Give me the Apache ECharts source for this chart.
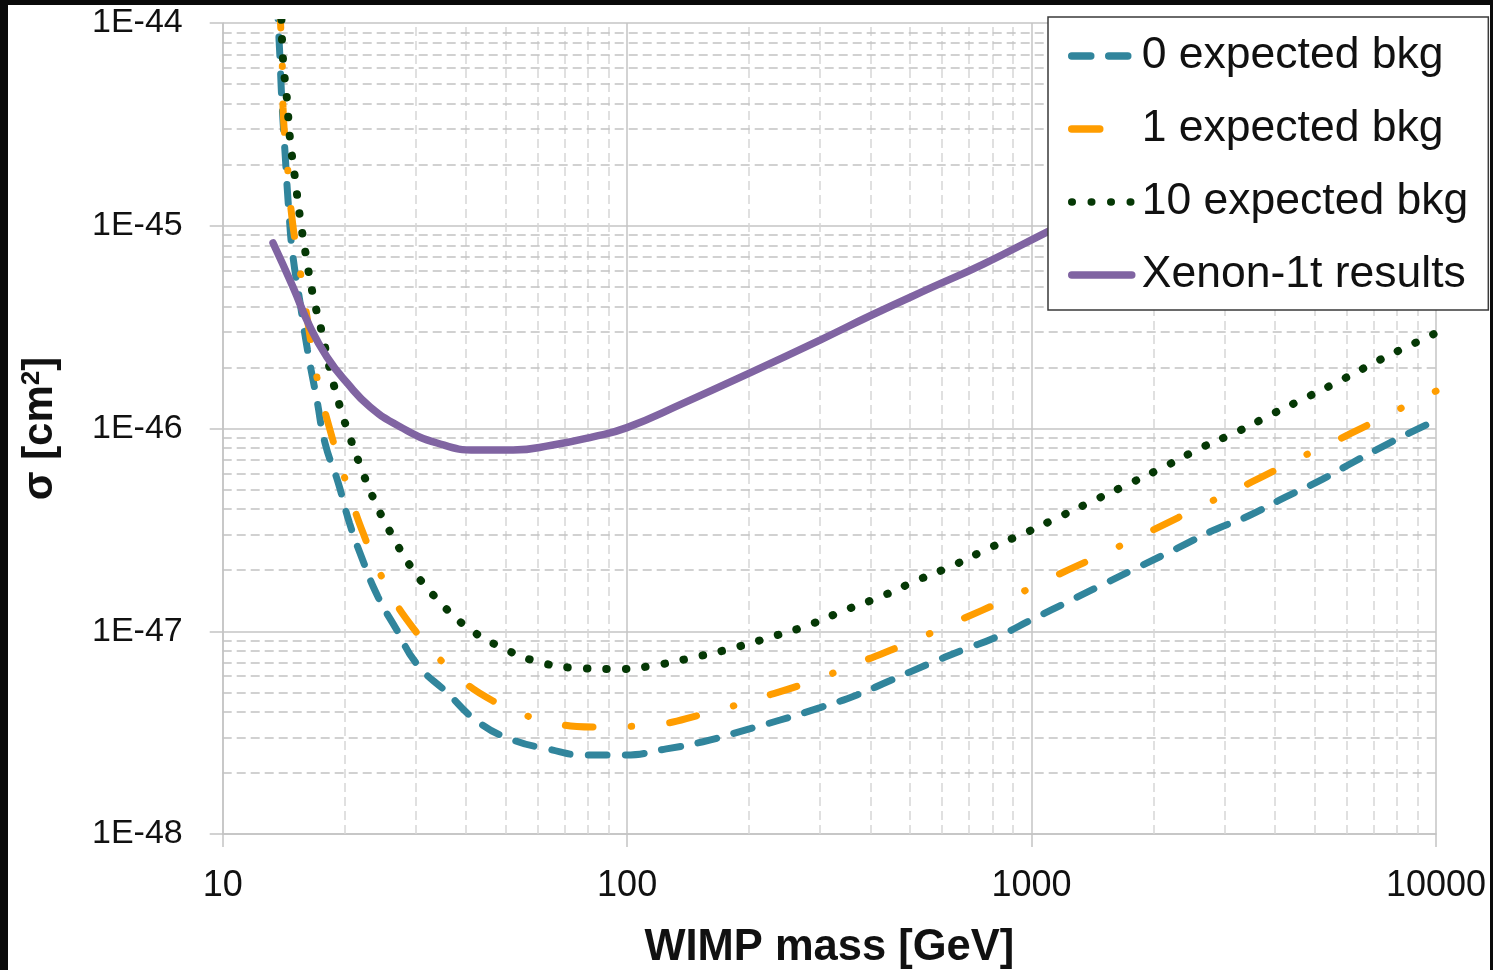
<!DOCTYPE html>
<html lang="en">
  <head>
    <meta charset="UTF-8">
    <title>WIMP sensitivity</title>
    <style>
      html, body { margin: 0; padding: 0; background: #0a0a0a; }
      .chart {
        position: absolute;
        left: 8px;
        top: 5px;
        width: 1482px;
        height: 965px;
        background: #fff;
      }
    </style>
  </head>
  <body>
    <div id="chart" class="chart"></div>

    <script src="https://cdn.jsdelivr.net/npm/echarts@6/dist/echarts.min.js"></script>
    <script type="text/javascript">
      // values are in cm^2; the y axis works in units of 1e-48 cm^2
      // because echarts rounds very small numbers away
      var SIGMA_UNIT = 1e-48;

      // axis ticks
      var xTicks = [10, 100, 1000, 10000];
      var yTicks = [1e-48, 1e-47, 1e-46, 1e-45, 1e-44];

      // 0 expected bkg
      var massBkg0 = [13.65, 13.72, 13.86, 14.0, 14.25, 14.6, 14.9, 15.5, 16.2, 17.1, 17.9, 19.3, 20.6, 22.2, 24.2, 26.9, 30.2, 35.8, 42.6, 51.3, 63.4, 79.5, 97.8, 125, 154, 190, 239, 300, 370, 446, 552, 678, 822, 1010, 1241, 1536, 1854, 2296, 2830, 3434, 4230, 5218, 6225, 7688, 10000];
      var sigmaBkg0 = [1.3e-44, 1.0e-44, 6.6e-45, 4.2e-45, 2.35e-45, 1.12e-45, 7.2e-46, 4.3e-46, 2.45e-46, 1.38e-46, 8.5e-47, 5.4e-47, 3.4e-47, 2.24e-47, 1.48e-47, 1.02e-47, 6.9e-48, 5.0e-48, 3.6e-48, 2.95e-48, 2.63e-48, 2.45e-48, 2.45e-48, 2.63e-48, 2.85e-48, 3.2e-48, 3.65e-48, 4.2e-48, 4.85e-48, 5.7e-48, 6.85e-48, 8.1e-48, 9.4e-48, 1.15e-47, 1.41e-47, 1.74e-47, 2.09e-47, 2.57e-47, 3.16e-47, 3.7e-47, 4.57e-47, 5.6e-47, 6.8e-47, 8.5e-47, 1.1e-46];

      // 1 expected bkg
      var massBkg1 = [13.85, 13.9, 14.02, 14.1, 14.42, 14.83, 15.53, 16.25, 17.1, 18.42, 20.18, 22.24, 25.2, 29.55, 36.5, 46.6, 61.9, 84.2, 114, 155, 208, 278, 372, 495, 654, 869, 1142, 1518, 2017, 2636, 3504, 4605, 6052, 8000, 10000];
      var sigmaBkg1 = [1.3e-44, 1.0e-44, 6.95e-45, 3.81e-45, 2.11e-45, 1.10e-45, 6.05e-46, 3.31e-46, 1.79e-46, 9.84e-47, 5.45e-47, 3.05e-47, 1.73e-47, 1.04e-47, 6.52e-48, 4.53e-48, 3.65e-48, 3.37e-48, 3.45e-48, 3.91e-48, 4.64e-48, 5.56e-48, 6.97e-48, 8.75e-48, 1.12e-47, 1.44e-47, 1.87e-47, 2.43e-47, 3.19e-47, 4.15e-47, 5.45e-47, 7.16e-47, 9.29e-47, 1.23e-46, 1.53e-46];

      // 10 expected bkg
      var massBkg10 = [13.93, 13.98, 14.10, 14.42, 14.67, 15.09, 15.53, 16.07, 16.72, 17.60, 18.42, 19.61, 20.29, 21.85, 23.80, 26.36, 29.71, 34.25, 40.41, 49.32, 60.53, 75.57, 94.36, 117.8, 147.2, 182.6, 226.8, 279.9, 345.5, 426.6, 523.6, 642.7, 788.8, 962.8, 1182, 1450, 1781, 2173, 2652, 3256, 3973, 4877, 5952, 7263, 8863, 10000];
      var sigmaBkg10 = [1.3e-44, 1.0e-44, 6.57e-45, 4.17e-45, 2.68e-45, 1.72e-45, 1.10e-45, 7.10e-46, 4.55e-46, 2.96e-46, 1.95e-46, 1.23e-46, 1.00e-46, 6.61e-47, 4.35e-47, 2.92e-47, 1.98e-47, 1.41e-47, 1.04e-47, 8.26e-48, 7.05e-48, 6.59e-48, 6.51e-48, 6.81e-48, 7.46e-48, 8.26e-48, 9.37e-48, 1.07e-47, 1.27e-47, 1.49e-47, 1.79e-47, 2.12e-47, 2.58e-47, 3.05e-47, 3.70e-47, 4.49e-47, 5.45e-47, 6.61e-47, 8.11e-47, 9.72e-47, 1.19e-46, 1.45e-46, 1.77e-46, 2.18e-46, 2.64e-46, 2.96e-46];

      // Xenon-1t results
      var massXenon = [13.32, 14.92, 16.44, 18.11, 20.29, 23.13, 27.44, 33.88, 42.53, 52.22, 65.56, 82.3, 99.9, 137.4, 201.2, 299.9, 405.3, 570.2, 757.9, 1091, 3000, 10000];
      var sigmaXenon = [8.22e-46, 4.99e-46, 3.17e-46, 2.25e-46, 1.68e-46, 1.28e-46, 1.02e-46, 8.48e-47, 7.83e-47, 7.83e-47, 8.29e-47, 9.1e-47, 1.01e-46, 1.33e-46, 1.88e-46, 2.73e-46, 3.65e-46, 4.99e-46, 6.45e-46, 9.31e-46, 2.56e-45, 7.8e-45];

      var seriesNames = ['0 expected bkg', '1 expected bkg', '10 expected bkg', 'Xenon-1t results'];

      // minor grid positions (2..9 within each decade)
      var xMinorTicks = [];
      [10, 100, 1000].forEach(function (d) {
        for (var k = 2; k <= 9; k++) xMinorTicks.push(d * k);
      });
      var yMinorTicks = [];
      [1, 10, 100, 1000].forEach(function (d) {
        for (var k = 2; k <= 9; k++) yMinorTicks.push(d * k);
      });

      function pairs(xs, ys) {
        return xs.map(function (x, i) { return [x, ys[i] / SIGMA_UNIT]; });
      }

      var myChart = echarts.init(document.getElementById('chart'));

      var labelFont = '"Liberation Sans", Arial, sans-serif';

      var option = {
        animation: false,
        backgroundColor: '#ffffff',
        grid: {
          left: 214.7,
          right: 54,
          top: 18,
          bottom: 136,
          containLabel: false,
          outerBoundsMode: 'none'
        },
        legend: {
          data: seriesNames,
          orient: 'vertical',
          left: 1040,
          top: 12,
          z: 10,
          padding: [15, 20, 11, 20],
          itemGap: 25,
          itemWidth: 60,
          itemHeight: 14,
          backgroundColor: '#ffffff',
          borderColor: '#3a3a3a',
          borderWidth: 1.5,
          borderRadius: 0,
          selectedMode: false,
          itemStyle: { opacity: 0 },
          lineStyle: { width: 7.5 },
          textStyle: {
            fontFamily: labelFont,
            fontSize: 44.5,
            lineHeight: 48,
            color: '#111',
            padding: [0, 0, 0, 5]
          }
        },
        xAxis: {
          type: 'log',
          logBase: 10,
          min: xTicks[0],
          max: xTicks[xTicks.length - 1],
          name: 'WIMP mass [GeV]',
          nameLocation: 'middle',
          nameGap: 92,
          nameTextStyle: {
            fontFamily: labelFont,
            fontWeight: 'bold',
            fontSize: 43.5,
            color: '#111'
          },
          axisLine: { show: true, lineStyle: { color: '#c4c4c4', width: 1.5 } },
          axisTick: { show: true, inside: false, length: 13, lineStyle: { color: '#c4c4c4', width: 1.5 } },
          axisLabel: {
            margin: 34,
            fontFamily: labelFont,
            fontSize: 36,
            color: '#111',
            formatter: function (v) { return String(Math.round(v)); }
          },
          splitLine: { show: true, lineStyle: { color: '#c4c4c4', width: 1.5 } }
        },
        yAxis: {
          type: 'log',
          logBase: 10,
          min: yTicks[0] / SIGMA_UNIT,
          max: yTicks[yTicks.length - 1] / SIGMA_UNIT,
          name: 'σ [cm{sup|2}]',
          nameLocation: 'middle',
          nameRotate: 90,
          nameGap: 160,
          nameTextStyle: {
            fontFamily: labelFont,
            fontWeight: 'bold',
            fontSize: 42,
            color: '#111',
            rich: {
              sup: {
                fontFamily: labelFont,
                fontWeight: 'bold',
                fontSize: 26,
                color: '#111',
                padding: [0, 0, 18, 0]
              }
            }
          },
          axisLine: { show: true, lineStyle: { color: '#c4c4c4', width: 1.5 } },
          axisTick: { show: true, inside: false, length: 13, lineStyle: { color: '#c4c4c4', width: 1.5 } },
          axisLabel: {
            margin: 40,
            fontFamily: labelFont,
            fontSize: 34,
            color: '#111',
            formatter: function (v) {
              return '1E' + Math.round(Math.log10(v * SIGMA_UNIT));
            }
          },
          splitLine: { show: true, lineStyle: { color: '#c4c4c4', width: 1.5 } }
        },
        series: [{
          name: 'minor grid',
          type: 'line',
          data: [],
          z: 1,
          silent: true,
          markLine: {
            z: 1,
            silent: true,
            symbol: 'none',
            label: { show: false },
            animation: false,
            data: xMinorTicks.map(function (v) {
              return { xAxis: v, lineStyle: { color: '#d6d6d6', width: 1.5, type: [9, 5] } };
            }).concat(yMinorTicks.map(function (v) {
              return { yAxis: v, lineStyle: { color: '#c2c2c2', width: 1.5, type: [9, 5] } };
            }))
          }
        }, {
          name: seriesNames[0],
          type: 'line',
          data: pairs(massBkg0, sigmaBkg0),
          showSymbol: false,
          symbol: 'none',
          smooth: 0.5,
          z: 3,
          color: '#31859c',
          lineStyle: { color: '#31859c', width: 7, type: [19, 18], cap: 'round' }
        }, {
          name: seriesNames[1],
          type: 'line',
          data: pairs(massBkg1, sigmaBkg1),
          showSymbol: false,
          symbol: 'none',
          smooth: 0.5,
          z: 3,
          color: '#ff9d00',
          lineStyle: { color: '#ff9d00', width: 7, type: [28, 38, 0.5, 38], cap: 'round' }
        }, {
          name: seriesNames[2],
          type: 'line',
          data: pairs(massBkg10, sigmaBkg10),
          showSymbol: false,
          symbol: 'none',
          smooth: 0.5,
          z: 3,
          color: '#053805',
          lineStyle: { color: '#053805', width: 8, type: [0.5, 19], cap: 'round' }
        }, {
          name: seriesNames[3],
          type: 'line',
          data: pairs(massXenon, sigmaXenon),
          showSymbol: false,
          symbol: 'none',
          smooth: 0.5,
          z: 3,
          color: '#8064a2',
          lineStyle: { color: '#8064a2', width: 7.5, cap: 'round' }
        }]
      };

      myChart.setOption(option);
    </script>
  </body>
</html>
